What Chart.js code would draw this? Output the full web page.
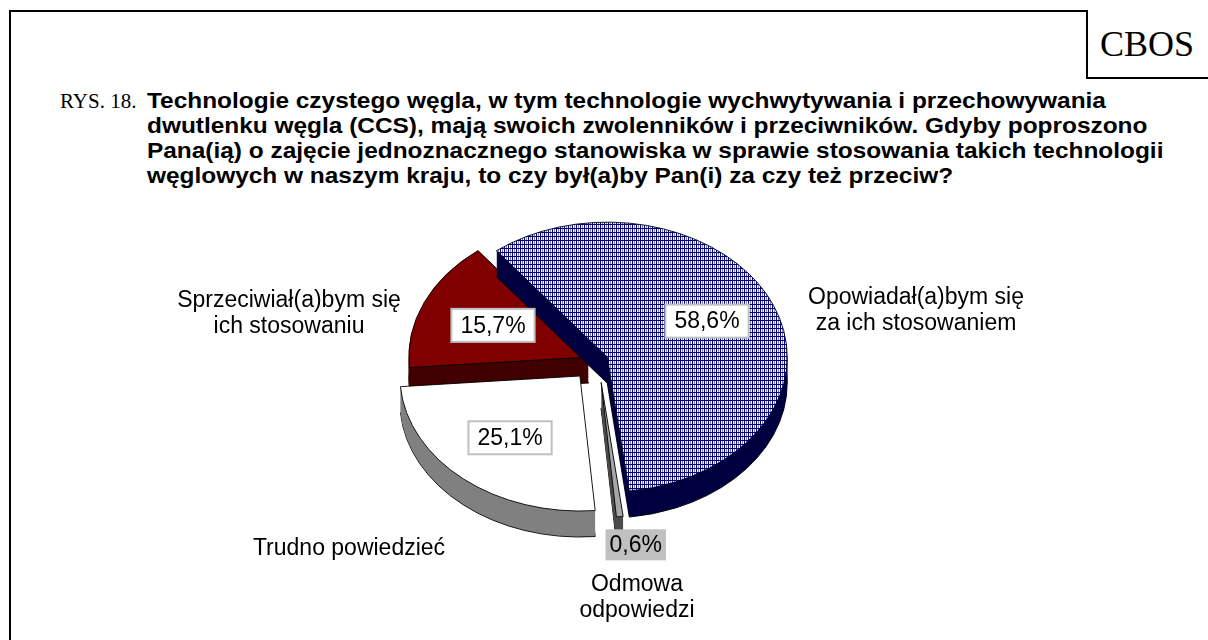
<!DOCTYPE html>
<html lang="pl">
<head>
<meta charset="utf-8">
<title>RYS. 18 – CBOS</title>
<script src="https://cdn.jsdelivr.net/npm/chart.js@4.4.1/dist/chart.umd.min.js"></script>
<style>
  html, body { margin: 0; padding: 0; background: #fff; }
  body { width: 1208px; height: 640px; position: relative; overflow: hidden; }
  #frame { position: absolute; left: 9px; top: 10px; width: 1210px; height: 640px;
           border-left: 2px solid #000; border-top: 2px solid #000; }
  #cbos { position: absolute; left: 1086px; top: 10px; width: 140px; height: 69px;
          border-left: 2px solid #000; border-bottom: 2px solid #000;
          font: 36px "Liberation Serif", "Times New Roman", serif; line-height: 68px;
          padding-left: 12px; box-sizing: border-box; background: #fff; }
  #rys { position: absolute; left: 60px; top: 89px; font: 21px "Liberation Serif", "Times New Roman", serif;
         line-height: 25px; }
  #title { position: absolute; left: 147px; top: 88px; font: bold 22px "Liberation Sans", Arial, sans-serif;
           line-height: 25px; white-space: nowrap; transform: scaleX(1.11); transform-origin: 0 0; }
  #chart { position: absolute; left: 0; top: 0; }
</style>
</head>
<body>
<div id="frame"></div>
<div id="rys">RYS. 18.</div>
<div id="title">Technologie czystego węgla, w tym technologie wychwytywania i przechowywania<br>dwutlenku węgla (CCS), mają swoich zwolenników i przeciwników. Gdyby poproszono<br>Pana(ią) o zajęcie jednoznacznego stanowiska w sprawie stosowania takich technologii<br>węglowych w naszym kraju, to czy był(a)by Pan(i) za czy też przeciw?</div>
<div id="cbos">CBOS</div>
<canvas id="chart" width="1208" height="640"></canvas>

<script>
// answers, clockwise from the first slice
const labels = [
  ['Opowiadał(a)bym się', 'za ich stosowaniem'],
  ['Odmowa', 'odpowiedzi'],
  ['Trudno powiedzieć'],
  ['Sprzeciwiał(a)bym się', 'ich stosowaniu']
];
const values = [58.6, 0.6, 25.1, 15.7];

const topColors = [null, '#a6a6a6', '#ffffff', '#800000'];
const sideColors = ['#000040', '#4d4d4d', '#808080', '#420000'];
const explode = [10, 30, 28, 10];   // px, along the slice middle

// look of the fake 3D
const TILT = 0.75;
const DEPTH = 26;
const DRAW_ORDER = [3, 0, 2, 1];
const FONT = '23px "Liberation Sans", Arial, sans-serif';

// navy grid fill for the big slice
function gridPattern() {
  const c = document.createElement('canvas');
  c.width = 4; c.height = 4;
  const g = c.getContext('2d');
  g.fillStyle = '#fff';
  g.fillRect(0, 0, 4, 4);
  g.fillStyle = '#000080';
  g.fillRect(0, 0, 4, 1);
  g.fillRect(0, 0, 1, 4);
  g.fillStyle = 'rgba(0,0,128,0.5)';
  g.fillRect(2, 1, 1, 3);
  return g.createPattern(c, 'repeat');
}
topColors[0] = gridPattern();

function midAngle(el) {
  return (el.startAngle + el.endAngle) / 2;
}

// point inside a slice, at a fraction of the radius, in screen coords
function sliceAnchor(el, i, f) {
  const mid = midAngle(el);
  const d = explode[i] + el.outerRadius * f;
  return { x: el.x + Math.cos(mid) * d, y: el.y + Math.sin(mid) * d * TILT };
}

const pie3d = {
  id: 'pie3d',
  beforeDatasetsDraw(chart) {
    const ctx = chart.ctx;
    const arcs = chart.getDatasetMeta(0).data;
    const cx = arcs[0].x, cy = arcs[0].y;
    ctx.save();
    ctx.translate(cx, cy);
    ctx.scale(1, TILT);
    ctx.translate(-cx, -cy);
    DRAW_ORDER.forEach(i => {
      const el = arcs[i];
      const mid = midAngle(el);
      ctx.save();
      ctx.translate(Math.cos(mid) * explode[i], Math.sin(mid) * explode[i]);
      const side = Object.create(el);
      for (let d = DEPTH; d > 0; d--) {
        side.options = Object.assign({}, el.options, {
          backgroundColor: sideColors[i],
          borderWidth: d === DEPTH ? 1 : 0
        });
        ctx.save();
        ctx.translate(0, d / TILT);
        side.draw(ctx);
        ctx.restore();
      }
      // keep the grid fill square and on whole pixels
      const bg = el.options.backgroundColor;
      if (bg instanceof CanvasPattern) bg.setTransform(ctx.getTransform().inverse());
      el.draw(ctx);
      ctx.restore();
    });
    ctx.restore();
    return false;
  }
};

const pctFraction = [0.6, 1.21, 0.6, 0.6];
const pctNudge = [[0, -5], [12, 0], [0, 0], [3, 1]];
// category label centres, relative to the pie centre
const labelPos = [[318, -62], [39, 225], [-249, 189], [-309, -59]];

const pieLabels = {
  id: 'pieLabels',
  afterDraw(chart) {
    const ctx = chart.ctx;
    const arcs = chart.getDatasetMeta(0).data;
    const cx = arcs[0].x, cy = arcs[0].y;
    ctx.save();
    ctx.font = FONT;
    ctx.textAlign = 'center';
    ctx.textBaseline = 'middle';
    ctx.fillStyle = '#000';
    labels.forEach((lines, i) => {
      lines.forEach((t, j) => {
        ctx.fillText(t, cx + labelPos[i][0], cy + labelPos[i][1] + j * 26);
      });
    });
    values.forEach((v, i) => {
      const a = sliceAnchor(arcs[i], i, pctFraction[i]);
      const x = a.x + pctNudge[i][0], y = a.y + pctNudge[i][1];
      const txt = v.toFixed(1).replace('.', ',') + '%';
      const w = ctx.measureText(txt).width;
      const small = i === 1;
      const bw = w + (small ? 8 : 18), bh = small ? 31 : 33;
      if (small) {
        ctx.fillStyle = '#c0c0c0';
        ctx.fillRect(x - bw / 2, y - bh / 2, bw, bh);
      } else {
        ctx.fillStyle = '#fff';
        ctx.fillRect(x - bw / 2, y - bh / 2, bw, bh);
        ctx.strokeStyle = '#c0c0c0';
        ctx.lineWidth = 2;
        ctx.strokeRect(x - bw / 2, y - bh / 2, bw, bh);
      }
      ctx.fillStyle = '#000';
      ctx.fillText(txt, x, y + 1);
    });
    ctx.restore();
  }
};

new Chart(document.getElementById('chart'), {
  type: 'pie',
  data: {
    labels: labels.map(l => l.join(' ')),
    datasets: [{
      data: values,
      backgroundColor: topColors,
      borderColor: '#000',
      borderWidth: 1,
      radius: 180
    }]
  },
  options: {
    responsive: false,
    animation: false,
    events: [],
    rotation: -38,
    layout: { padding: { left: 300, right: 312, top: 156, bottom: 76 } },
    plugins: {
      legend: { display: false },
      tooltip: { enabled: false },
      title: { display: false }
    }
  },
  plugins: [pie3d, pieLabels]
});
</script>
</body>
</html>
